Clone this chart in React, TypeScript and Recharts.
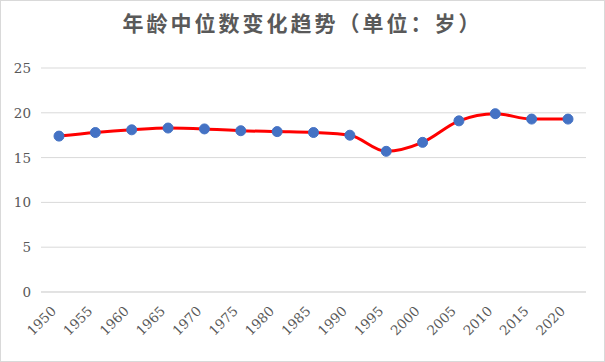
import React from 'react';
import { LineChart, Line, XAxis, YAxis, CartesianGrid } from 'recharts';

const years = ['1950','1955','1960','1965','1970','1975','1980','1985','1990','1995','2000','2005','2010','2015','2020'];
const medianAge = [17.4, 17.8, 18.1, 18.3, 18.2, 18.0, 17.9, 17.8, 17.5, 15.7, 16.7, 19.1, 19.9, 19.3, 19.3];
const yTicks = [0, 5, 10, 15, 20, 25];
const title = '年龄中位数变化趋势（单位：岁）';

const data = years.map((y, i) => ({ year: y, value: medianAge[i] }));

const serif = 'DejaVu Serif';

const XTick = (props: any) => {
  const { x, y, payload } = props;
  return (
    <g transform={`translate(${x - 2},${y + 12})`}>
      <text x={0} y={0} textAnchor="end" transform="rotate(-45)" fill="#595959"
        fontFamily={serif} fontSize={13.5}>
        {payload.value}
      </text>
    </g>
  );
};

const YTick = (props: any) => {
  const { x, y, payload } = props;
  return (
    <text x={x} y={y} dy={5} textAnchor="end" fill="#595959"
      fontFamily={serif} fontSize={13.5}>
      {payload.value}
    </text>
  );
};

export default function App() {
  return (
    <div style={{ position: 'absolute', left: 0, top: 0, width: 605, height: 362, background: '#fff' }}>
      <div style={{
        position: 'absolute', left: 0, top: 10, width: 605, textAlign: 'center',
        fontFamily: '"DejaVu Serif", "Noto Sans CJK SC", serif', fontWeight: 700, fontSize: 21,
        letterSpacing: 3, color: '#595959', lineHeight: '28px'
      }}>{title}</div>
      <LineChart width={605} height={362} data={data}
        margin={{ top: 68, right: 19, bottom: 10, left: 6 }}>
        <CartesianGrid vertical={false} stroke="#d9d9d9" strokeWidth={1} />
        <XAxis dataKey="year" tickLine={false} axisLine={{ stroke: '#d9d9d9' }} interval={0}
          height={60} tick={<XTick />} padding={{ left: 18, right: 18 }} />
        <YAxis domain={[0, 25]} ticks={yTicks} axisLine={false} tickLine={false} width={35}
          tick={<YTick />} tickMargin={4} />
        <Line type="monotone" dataKey="value" stroke="#ff0000" strokeWidth={3}
          dot={{ r: 5, fill: '#4472c4', stroke: '#4472c4', strokeWidth: 1 }}
          activeDot={false} isAnimationActive={false} />
      </LineChart>
      <div style={{
        position: 'absolute', left: 0, top: 0, width: 605, height: 362, boxSizing: 'border-box',
        border: '1px solid #d9d9d9', pointerEvents: 'none'
      }} />
    </div>
  );
}
